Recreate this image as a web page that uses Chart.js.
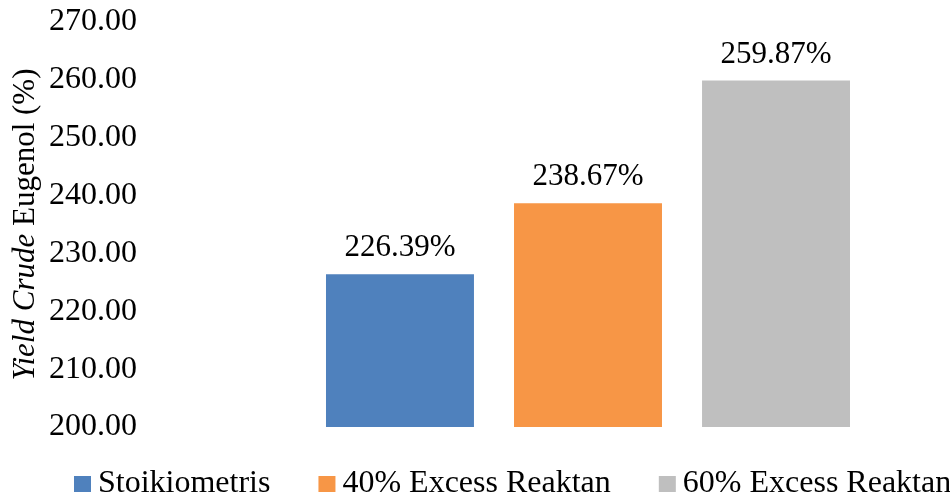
<!DOCTYPE html>
<html>
<head>
<meta charset="utf-8">
<script src="https://cdn.jsdelivr.net/npm/chart.js@4.4.1/dist/chart.umd.min.js"></script>
<style>
  html, body { margin: 0; padding: 0; background: #ffffff; }
  #wrap { width: 950px; height: 497px; }
</style>
</head>
<body>
<div id="wrap"><canvas id="chart" width="950" height="497"></canvas></div>
<script>
// Crude eugenol yield for each reactant ratio
const categories = [''];
const seriesNames = ['Stoikiometris', '40% Excess Reaktan', '60% Excess Reaktan'];
const seriesValues = [226.39, 238.67, 259.87];
const seriesColors = ['#4F81BD', '#F79646', '#BFBFBF'];
const yMin = 200;
const yMax = 270;
const yStep = 10;
const axisTitleParts = [
  { text: 'Yield Crude', italic: true },
  { text: ' Eugenol (%)', italic: false }
];

const SERIF = '"Liberation Serif", "Times New Roman", Times, serif';

// Percentage labels above every bar
const valueLabels = {
  id: 'valueLabels',
  afterDatasetsDraw(chart) {
    const ctx = chart.ctx;
    ctx.save();
    ctx.font = '31px ' + SERIF;
    ctx.fillStyle = '#000000';
    ctx.textAlign = 'center';
    ctx.textBaseline = 'alphabetic';
    chart.data.datasets.forEach((ds, i) => {
      chart.getDatasetMeta(i).data.forEach((bar, j) => {
        ctx.fillText(ds.data[j].toFixed(2) + '%', bar.x, bar.y - 18);
      });
    });
    ctx.restore();
  }
};

// Vertical axis title with the italic "Yield Crude" part
const axisTitle = {
  id: 'axisTitle',
  afterDraw(chart) {
    const ctx = chart.ctx;
    const area = chart.chartArea;
    ctx.save();
    ctx.translate(34, (area.top + area.bottom) / 2);
    ctx.rotate(-Math.PI / 2);
    ctx.fillStyle = '#000000';
    ctx.textBaseline = 'alphabetic';
    ctx.textAlign = 'left';
    const fonts = axisTitleParts.map(p => (p.italic ? 'italic ' : '') + '31px ' + SERIF);
    let total = 0;
    const widths = axisTitleParts.map((p, k) => {
      ctx.font = fonts[k];
      const w = ctx.measureText(p.text).width;
      total += w;
      return w;
    });
    let x = -total / 2;
    axisTitleParts.forEach((p, k) => {
      ctx.font = fonts[k];
      ctx.fillText(p.text, x, 0);
      x += widths[k];
    });
    ctx.restore();
  }
};

// Legend row under the plot: square swatch followed by the series name
const legendRow = {
  id: 'legendRow',
  afterDraw(chart) {
    const ctx = chart.ctx;
    const box = 17, boxH = 16, gap = 7, itemGap = 48;
    const baseline = 492;
    ctx.save();
    ctx.font = '32px ' + SERIF;
    ctx.textBaseline = 'alphabetic';
    ctx.textAlign = 'left';
    let x = 74;
    chart.data.datasets.forEach(ds => {
      ctx.fillStyle = ds.backgroundColor;
      ctx.fillRect(x, baseline - boxH, box, boxH);
      x += box + gap;
      ctx.fillStyle = '#000000';
      ctx.fillText(ds.label, x, baseline);
      x += ctx.measureText(ds.label).width + itemGap;
    });
    ctx.restore();
  }
};

const datasets = seriesNames.map((name, i) => ({
  label: name,
  data: [seriesValues[i]],
  backgroundColor: seriesColors[i],
  borderWidth: 0,
  barPercentage: 0.787,
  categoryPercentage: 0.79
}));

new Chart(document.getElementById('chart'), {
  type: 'bar',
  data: { labels: categories, datasets },
  options: {
    responsive: false,
    animation: false,
    devicePixelRatio: 1,
    layout: { padding: { left: 0, right: 5, top: 22, bottom: 70 } },
    plugins: {
      legend: { display: false },
      tooltip: { enabled: false }
    },
    scales: {
      x: { display: false, offset: true },
      y: {
        min: yMin,
        max: yMax,
        afterFit(scale) {
          scale.width = 231;
          scale.paddingTop = 0;
          scale.paddingBottom = 0;
        },
        grid: { display: false, drawTicks: false },
        border: { display: false },
        ticks: {
          stepSize: yStep,
          padding: 94,
          color: '#000000',
          font: { family: SERIF, size: 32 },
          callback: v => Number(v).toFixed(2)
        }
      }
    }
  },
  plugins: [valueLabels, axisTitle, legendRow]
});
</script>
</body>
</html>
